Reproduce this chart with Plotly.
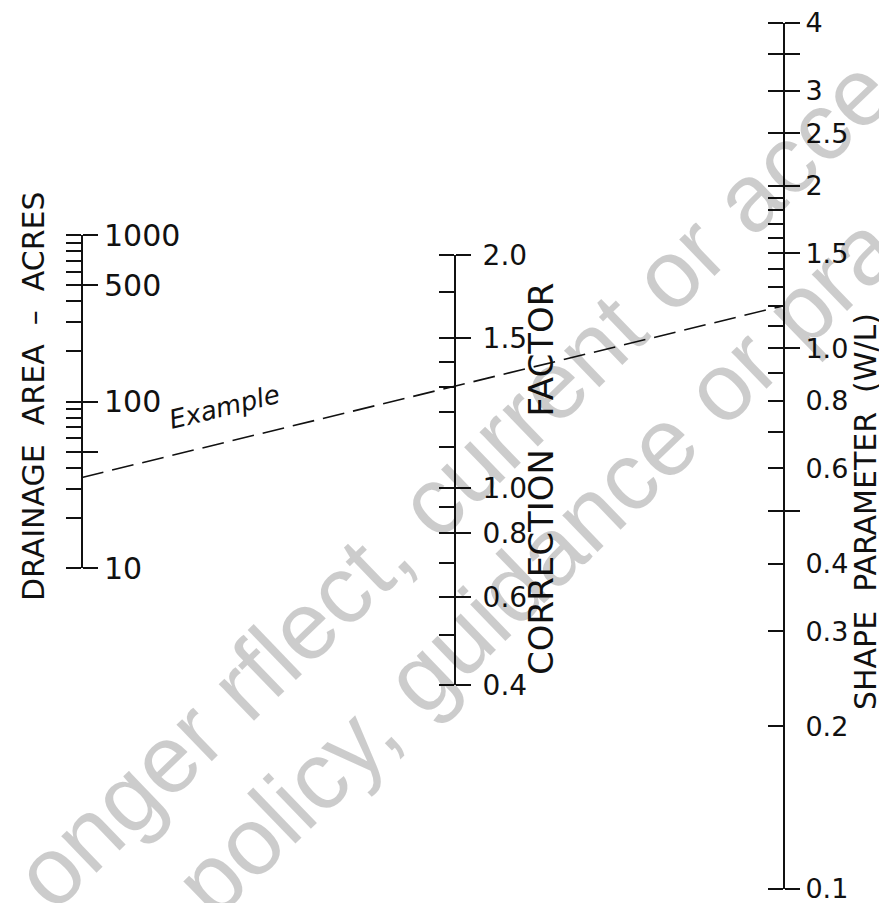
import plotly.graph_objects as go
import math

# ---------------- data ----------------
# Drainage area scale (acres, logarithmic)
area_labels = [10, 100, 500, 1000]
area_label_text = ["10", "100", "500", "1000"]
area_long_ticks = [10, 50, 100, 500, 1000]
area_all_ticks = [10, 20, 30, 40, 50, 60, 70, 80, 90, 100,
                  200, 300, 400, 500, 600, 700, 800, 900, 1000]

# Correction factor scale (graphical calibration: relative position along the scale)
cf_values = [0.4, 0.5, 0.6, 0.7, 0.8, 0.9, 1.0, 1.1, 1.2, 1.3, 1.4, 1.5, 1.75, 2.0]
cf_scale_pos = [0.0, 0.116, 0.205, 0.284, 0.353, 0.414, 0.458, 0.553, 0.635,
                0.693, 0.751, 0.807, 0.914, 1.0]
cf_labels = [0.4, 0.6, 0.8, 1.0, 1.5, 2.0]
cf_label_text = ["0.4", "0.6", "0.8", "1.0", "1.5", "2.0"]

# Shape parameter W/L (logarithmic)
wl_labels = [0.1, 0.2, 0.3, 0.4, 0.6, 0.8, 1.0, 1.5, 2, 2.5, 3, 4]
wl_label_text = ["0.1", "0.2", "0.3", "0.4", "0.6", "0.8", "1.0", "1.5", "2", "2.5", "3", "4"]
wl_long_ticks = [0.1, 0.5, 1.0, 1.5, 2, 2.5, 3, 3.5, 4]
wl_all_ticks = [0.1, 0.2, 0.3, 0.4, 0.5, 0.6, 0.7, 0.8, 0.9, 1.0, 1.1, 1.2, 1.3, 1.4,
                1.5, 1.6, 1.7, 1.8, 1.9, 2.0, 2.5, 3.0, 3.5, 4.0]

# Worked example
example_area = 35
example_cf = 1.3
example_wl = 1.2

# ---------------- layout ----------------
PAGE_OFF = 8                     # default body margin of the page
W, H = 887 - PAGE_OFF, 903 - PAGE_OFF
INK = "#111111"
FONT = "DejaVu Sans"

def px_x(vx):
    return (vx - PAGE_OFF) / W

def px_y(vy):
    return 1 - (vy - PAGE_OFF) / H

area_dom = [px_y(568), px_y(235)]
area_rng = [1, 3]
cf_dom = [px_y(685), px_y(255)]
cf_rng = [0, 1]
wl_dom = [px_y(889), px_y(23)]
wl_rng = [-1, math.log10(4)]

x_area = px_x(82)
x_cf = px_x(455)
x_wl = px_x(784)


def cf_pos(v):
    for i in range(len(cf_values) - 1):
        a, b = cf_values[i], cf_values[i + 1]
        if a <= v <= b:
            t = (v - a) / (b - a)
            return cf_scale_pos[i] + t * (cf_scale_pos[i + 1] - cf_scale_pos[i])
    return None


def to_paper(val, dom, rng, log=False):
    u = math.log10(val) if log else val
    return dom[0] + (u - rng[0]) / (rng[1] - rng[0]) * (dom[1] - dom[0])


fig = go.Figure()

def axis(dom, rng, pos, side, log, tickvals, ticktext=None, line=False,
         tickcolor=INK, labels=False, size=28, standoff=None):
    d = dict(domain=dom, range=rng, anchor="free", position=pos, side=side,
             type="log" if log else "linear", showgrid=False, zeroline=False,
             showline=line, linecolor=INK, linewidth=2, automargin=False,
             ticks="outside", ticklen=15, tickwidth=2, tickcolor=tickcolor,
             tickmode="array", tickvals=tickvals, ticklabeloverflow="allow",
             showticklabels=labels, fixedrange=True,
             tickfont=dict(family=FONT, size=size, color=INK))
    if ticktext is not None:
        d["ticktext"] = ticktext
    if standoff is not None:
        d["ticklabelstandoff"] = standoff
    return d

CLEAR = "rgba(0,0,0,0)"
axes = {
    # drainage area
    "yaxis": axis(area_dom, area_rng, x_area, "left", True, area_all_ticks, line=True),
    "yaxis2": axis(area_dom, area_rng, x_area, "right", True, area_long_ticks),
    "yaxis3": axis(area_dom, area_rng, x_area, "right", True, area_labels, area_label_text,
                   tickcolor=CLEAR, labels=True, size=30),
    # correction factor
    "yaxis4": axis(cf_dom, cf_rng, x_cf, "left", False, cf_scale_pos, line=True),
    "yaxis5": axis(cf_dom, cf_rng, x_cf, "right", False, [cf_pos(v) for v in cf_labels]),
    "yaxis6": axis(cf_dom, cf_rng, x_cf, "right", False, [cf_pos(v) for v in cf_labels],
                   cf_label_text, tickcolor=CLEAR, labels=True, size=28, standoff=6),
    # shape parameter
    "yaxis7": axis(wl_dom, wl_rng, x_wl, "left", True, wl_all_ticks, line=True),
    "yaxis8": axis(wl_dom, wl_rng, x_wl, "right", True, wl_long_ticks),
    "yaxis9": axis(wl_dom, wl_rng, x_wl, "right", True, wl_labels, wl_label_text,
                   tickcolor=CLEAR, labels=True, size=27),
    # overlay for the isopleth
    "yaxis10": dict(domain=[0, 1], range=[0, 1], anchor="x", visible=False,
                    fixedrange=True, automargin=False),
}

# invisible anchor traces so every scale is drawn
anchors = [("y", 100), ("y2", 100), ("y3", 100),
           ("y4", 0.5), ("y5", 0.5), ("y6", 0.5),
           ("y7", 1), ("y8", 1), ("y9", 1)]
for yid, v in anchors:
    fig.add_trace(go.Scatter(x=[0.5], y=[v], yaxis=yid, mode="markers",
                             marker=dict(opacity=0), hoverinfo="skip", showlegend=False))

# example isopleth through the three scales
y_left = to_paper(example_area, area_dom, area_rng, log=True)
y_right = to_paper(example_wl, wl_dom, wl_rng, log=True)
fig.add_trace(go.Scatter(x=[x_area, x_wl], y=[y_left, y_right], yaxis="y10",
                         mode="lines", line=dict(color=INK, width=1.6, dash="22px,9px"),
                         hoverinfo="skip", showlegend=False))

slope_px = -(y_right - y_left) * H / ((x_wl - x_area) * W)
angle = math.degrees(math.atan(slope_px))

WM = dict(family="Liberation Sans", size=96, color="rgba(0,0,0,0.2)")

def note(text, vx, vy, angle_deg, font):
    return dict(text=text, x=px_x(vx), y=px_y(vy), xref="paper", yref="paper",
                xanchor="center", yanchor="middle", showarrow=False,
                textangle=angle_deg, font=font)

annotations = [
    note("Example", 224, 407, angle,
         dict(family=FONT, size=26, color=INK, style="italic")),
    note("DRAINAGE\u00a0\u00a0AREA\u00a0\u00a0\u2013\u00a0\u00a0ACRES", 33, 396, -90,
         dict(family=FONT, size=30, color=INK)),
    note("CORRECTION\u00a0\u00a0\u00a0FACTOR", 541, 479, -90,
         dict(family=FONT, size=34, color=INK)),
    note("SHAPE\u00a0\u00a0PARAMETER\u00a0\u00a0(W/L)", 866, 512, -90,
         dict(family=FONT, size=30, color=INK)),
    # watermark
    note("onger rflect, current or acce", 452, 482, -44, WM),
    note("policy, guidance or pra", 535, 565, -44, WM),
]

fig.update_layout(
    width=W, height=H,
    margin=dict(l=0, r=0, t=0, b=0, autoexpand=False),
    paper_bgcolor="white", plot_bgcolor="rgba(0,0,0,0)",
    showlegend=False,
    xaxis=dict(domain=[0, 1], range=[0, 1], visible=False, fixedrange=True,
               automargin=False),
    annotations=annotations,
    **axes,
)

fig.write_html("out.html")
